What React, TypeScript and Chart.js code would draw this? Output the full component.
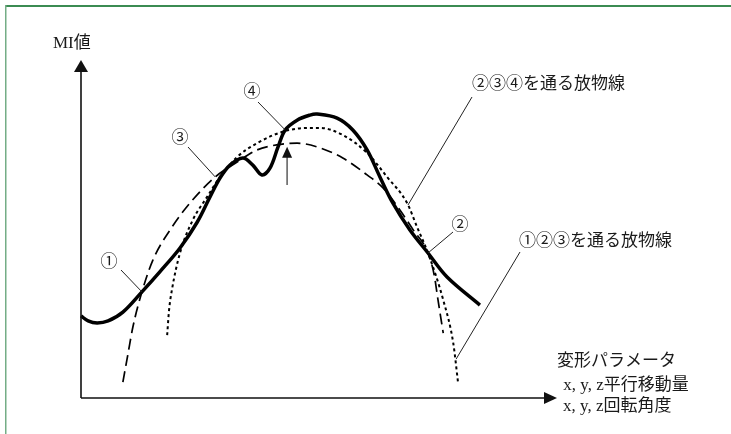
import React, { useEffect, useRef } from "react";
import { Chart, registerables } from "chart.js";

Chart.register(...registerables);

// MI value versus transformation parameter (abstract units, 0–100 on both axes)
const miParamX = [0, 1.5, 3.4, 5.7, 8.8, 12.8, 16.6, 20.8, 24.4, 27.1, 29.2, 31.3, 34.0, 36.1, 38.0, 39.7, 41.4, 42.9, 45.4, 48.1, 49.6, 53.8, 57.1, 60.1, 62.8, 65.5, 69.1, 72.9, 76.9, 83.8];
const miValue = [24.3, 22.8, 22.2, 22.8, 25.4, 31.4, 37.4, 44.4, 52.0, 59.5, 65.1, 68.9, 71.0, 68.9, 66.0, 68.0, 74.3, 79.3, 82.2, 83.7, 84.0, 82.8, 79.3, 73.4, 65.4, 57.7, 49.7, 42.9, 35.8, 27.5];

// Parabola through points 1, 2, 3 (long dashes)
const fit123X = [8.8, 9.9, 10.9, 12.8, 15.1, 18.7, 22.9, 28.2, 32.8, 37.0, 41.2, 45.4, 50.2, 55.0, 60.1, 63.5, 67.0, 69.8, 72.9, 74.2, 75.0, 76.1];
const fit123Y = [4.7, 13.3, 21.0, 31.4, 40.8, 49.7, 57.7, 65.4, 69.8, 73.4, 74.9, 75.4, 74.0, 71.0, 66.0, 62.1, 55.6, 49.7, 42.9, 36.4, 29.0, 19.2];

// Parabola through points 2, 3, 4 (dotted)
const fit234X = [18.1, 18.5, 19.1, 20.8, 23.5, 26.5, 29.2, 32.8, 37.0, 42.9, 48.1, 50.2, 55.0, 60.1, 64.3, 68.5, 70.6, 72.9, 76.1, 78.2, 79.2];
const fit234Y = [18.6, 26.0, 32.0, 42.9, 52.7, 59.5, 65.4, 71.3, 75.4, 79.0, 79.9, 79.9, 77.8, 72.5, 65.4, 57.7, 50.6, 42.9, 29.0, 16.3, 4.7];

// Reference points marked on the curves
const markerNames = ["①", "②", "③", "④"];
const markerX = [12.8, 72.9, 28.2, 42.9];
const markerY = [31.4, 42.9, 65.4, 79.3];

// Arrow pointing at the local dip
const dipArrowX = 43.3;
const dipArrowFrom = 63.0;
const dipArrowTo = 74.3;

// Where the parabola captions point to
const captions = ["②③④を通る放物線", "①②③を通る放物線"];
const captionTargetX = [68.7, 78.8];
const captionTargetY = [57.1, 11.5];

const axisYTitle = "MI値";
const axisXTitle = ["変形パラメータ", " x, y, z平行移動量", "x, y, z回転角度"];

const FONT = '17px "Liberation Serif", "Noto Sans CJK JP", serif';

const toPoints = (xs: number[], ys: number[]) => xs.map((x, i) => ({ x, y: ys[i] }));

const diagramPlugin = {
  id: "diagram",
  afterDraw(chart: any) {
    const { ctx, chartArea, scales } = chart;
    const sx = (v: number) => scales.x.getPixelForValue(v);
    const sy = (v: number) => scales.y.getPixelForValue(v);
    const W = chart.width;
    const H = chart.height;
    ctx.save();

    // frame
    ctx.fillStyle = "#3b8b52";
    ctx.fillRect(5, 5, W - 5, 2);
    ctx.fillStyle = "#74ad86";
    ctx.fillRect(5, 5, 1.5, H - 5);

    // axes with arrowheads
    const ox = chartArea.left;
    const oy = chartArea.bottom;
    ctx.strokeStyle = "#111";
    ctx.fillStyle = "#111";
    ctx.lineWidth = 1.6;
    ctx.beginPath();
    ctx.moveTo(ox, oy);
    ctx.lineTo(ox, chartArea.top + 12);
    ctx.moveTo(ox, oy);
    ctx.lineTo(chartArea.right - 13, oy);
    ctx.stroke();
    ctx.beginPath();
    ctx.moveTo(ox, chartArea.top);
    ctx.lineTo(ox - 7, chartArea.top + 12);
    ctx.lineTo(ox + 7, chartArea.top + 12);
    ctx.closePath();
    ctx.fill();
    ctx.beginPath();
    ctx.moveTo(chartArea.right, oy);
    ctx.lineTo(chartArea.right - 13, oy - 6);
    ctx.lineTo(chartArea.right - 13, oy + 6);
    ctx.closePath();
    ctx.fill();

    // axis titles
    ctx.font = FONT;
    ctx.textBaseline = "middle";
    ctx.textAlign = "left";
    ctx.fillStyle = "#1a1a1a";
    ctx.fillText(axisYTitle, 53, 44);
    ctx.fillText(axisXTitle[0], 557, 362);
    ctx.fillText(axisXTitle[1], 559, 386);
    ctx.fillText(axisXTitle[2], 563, 407);

    // marker labels with leader lines
    const labelPos = [
      [109, 263, 121, 270],
      [460, 226, 453, 232],
      [180, 139, 188, 147],
      [252, 93, 258, 102],
    ];
    ctx.lineWidth = 1;
    ctx.strokeStyle = "#222";
    ctx.textAlign = "center";
    markerNames.forEach((name, i) => {
      const [lx, ly, sx0, sy0] = labelPos[i];
      ctx.fillText(name, lx, ly);
      ctx.beginPath();
      ctx.moveTo(sx0, sy0);
      ctx.lineTo(sx(markerX[i]), sy(markerY[i]));
      ctx.stroke();
    });

    // parabola captions
    const capPos = [
      [472, 85, 472, 97],
      [519, 242, 520, 252],
    ];
    ctx.textAlign = "left";
    captions.forEach((text, i) => {
      const [tx, ty, lx, ly] = capPos[i];
      ctx.fillText(text, tx, ty);
      ctx.beginPath();
      ctx.moveTo(lx, ly);
      ctx.lineTo(sx(captionTargetX[i]), sy(captionTargetY[i]));
      ctx.stroke();
    });

    // arrow at the dip
    const ax = sx(dipArrowX);
    const tipY = sy(dipArrowTo);
    ctx.strokeStyle = "#666";
    ctx.lineWidth = 1.6;
    ctx.beginPath();
    ctx.moveTo(ax, sy(dipArrowFrom));
    ctx.lineTo(ax, tipY + 10);
    ctx.stroke();
    ctx.fillStyle = "#111";
    ctx.beginPath();
    ctx.moveTo(ax, tipY);
    ctx.lineTo(ax - 5, tipY + 11);
    ctx.lineTo(ax + 5, tipY + 11);
    ctx.closePath();
    ctx.fill();

    ctx.restore();
  },
};

export default function App() {
  const canvasRef = useRef<HTMLCanvasElement | null>(null);

  useEffect(() => {
    if (!canvasRef.current) return;
    const chart = new Chart(canvasRef.current, {
      type: "line",
      data: {
        datasets: [
          {
            label: "MI値",
            data: toPoints(miParamX, miValue),
            borderColor: "#000",
            borderWidth: 3.5,
            tension: 0.35,
            pointRadius: 0,
            clip: false as any,
          },
          {
            label: "①②③を通る放物線",
            data: toPoints(fit123X, fit123Y),
            borderColor: "#000",
            borderWidth: 1.7,
            borderDash: [11, 5.5],
            cubicInterpolationMode: "monotone",
            pointRadius: 0,
            clip: false as any,
          },
          {
            label: "②③④を通る放物線",
            data: toPoints(fit234X, fit234Y),
            borderColor: "#000",
            borderWidth: 2,
            borderDash: [3, 3],
            cubicInterpolationMode: "monotone",
            pointRadius: 0,
            clip: false as any,
          },
        ],
      },
      options: {
        animation: false,
        responsive: false,
        parsing: true,
        layout: { padding: { left: 81, right: 174, top: 60, bottom: 36 } },
        scales: {
          x: { type: "linear", min: 0, max: 100, display: false },
          y: { type: "linear", min: 0, max: 100, display: false },
        },
        plugins: {
          legend: { display: false },
          tooltip: { enabled: false },
          title: { display: false },
        },
      },
      plugins: [diagramPlugin],
    });
    return () => chart.destroy();
  }, []);

  return (
    <div style={{ position: "fixed", left: 0, top: 0, width: 731, height: 434, background: "#fff" }}>
      <canvas ref={canvasRef} width={731} height={434} style={{ display: "block" }} />
    </div>
  );
}
